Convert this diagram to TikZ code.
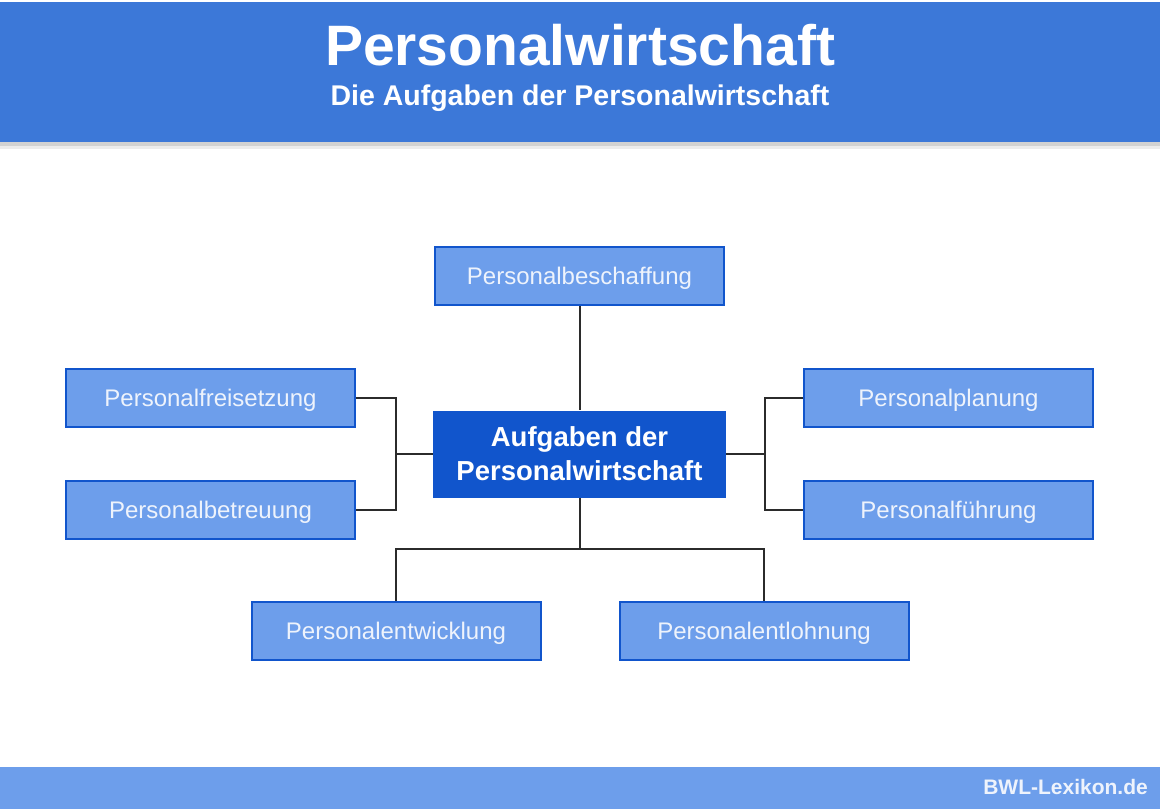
\documentclass[tikz,border=0pt]{standalone}
\usepackage{fontspec}
\setmainfont{Liberation Sans}
\definecolor{hdr}{HTML}{3C78D8}
\definecolor{ftr}{HTML}{6D9EEB}
\definecolor{leaffill}{HTML}{6D9EEB}
\definecolor{darkblue}{HTML}{1155CC}
\definecolor{leaftext}{HTML}{EEF3FC}
\definecolor{linec}{HTML}{2B2B2B}
\tikzset{
  leaf/.style={draw=darkblue, line width=2pt, fill=leaffill, minimum width=289pt, minimum height=58pt, inner sep=0pt, text height=20pt, text depth=4pt, text=leaftext, font=\fontsize{24}{28}\selectfont},
  hub/.style={fill=darkblue, minimum width=293pt, minimum height=87pt, inner sep=0pt, text=white, align=center, font=\bfseries\fontsize{27.5}{34}\selectfont},
  conn/.style={draw=linec, line width=2pt},
}
\begin{document}
\begin{tikzpicture}[x=1pt,y=-1pt]
\useasboundingbox (0,0) rectangle (1160,809);
\fill[white] (0,0) rectangle (1160,809);
% header with shadow
\fill[gray!35] (0,141) rectangle (1160,146);
\fill[gray!15] (0,146) rectangle (1160,149);
\fill[hdr] (0,2) rectangle (1160,142);
\node[text=white, font=\bfseries\fontsize{57}{60}\selectfont, inner sep=0pt] (title) at (580,45) {Personalwirtschaft};
\node[text=white, font=\bfseries\fontsize{28.5}{32}\selectfont, inner sep=0pt] (subtitle) at (580,98) {Die Aufgaben der Personalwirtschaft};
% footer
\fill[ftr] (0,767) rectangle (1160,809);
\node[text=leaftext, font=\bfseries\fontsize{21}{24}\selectfont, anchor=east, inner sep=0pt] (brand) at (1148,787) {BWL-Lexikon.de};
% nodes
\node[hub] (center) at (579.5,454) {Aufgaben der\\Personalwirtschaft};
\node[leaf] (beschaffung) at (579.5,276) {Personalbeschaffung};
\node[leaf] (freisetzung) at (210.5,398) {Personalfreisetzung};
\node[leaf] (betreuung) at (210.5,510) {Personalbetreuung};
\node[leaf] (planung) at (948.5,398) {Personalplanung};
\node[leaf] (fuehrung) at (948.5,510) {Personalführung};
\node[leaf] (entwicklung) at (396,631) {Personalentwicklung};
\node[leaf] (entlohnung) at (764,631) {Personalentlohnung};
% junctions
\coordinate (lj) at (396,454);
\coordinate (rj) at (765,454);
\coordinate (bj) at (579.5,549);
% connectors
\draw[conn] (beschaffung.south) -- (center.north);
\draw[conn] (center.west) -- (lj);
\draw[conn] (freisetzung.east) -| (lj) |- (betreuung.east);
\draw[conn] (center.east) -- (rj);
\draw[conn] (planung.west) -| (rj) |- (fuehrung.west);
\draw[conn] (center.south) -- (bj);
\draw[conn] (entwicklung.north) |- (bj) -| (entlohnung.north);
\end{tikzpicture}
\end{document}
